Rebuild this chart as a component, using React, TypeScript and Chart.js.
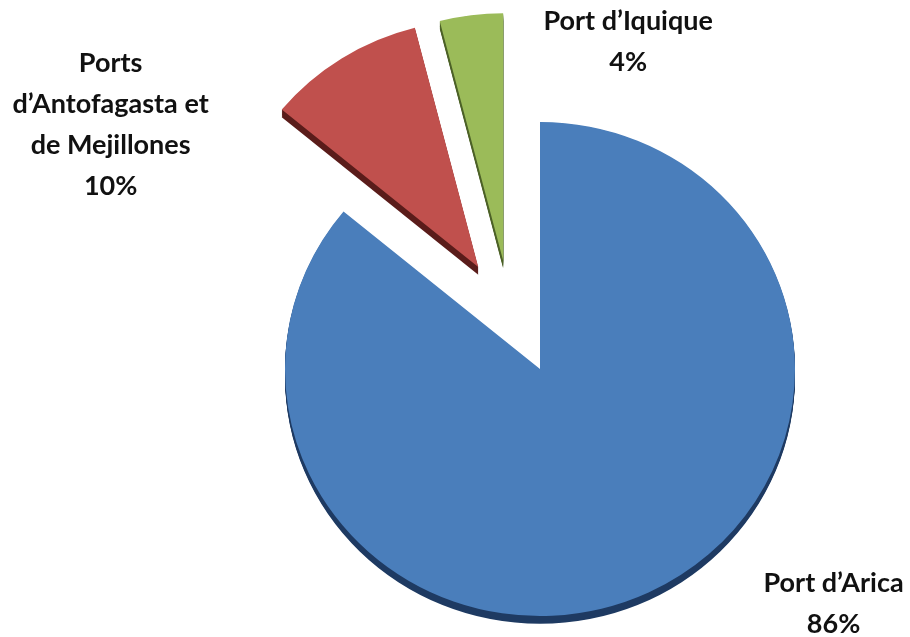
import React, { useEffect, useRef } from "react";
import { Chart, registerables } from "chart.js";

Chart.register(...registerables);

// ---- data ----
const CATEGORIES = ["Port d\u2019Arica", "Ports d\u2019Antofagasta et de Mejillones", "Port d\u2019Iquique"];
const LABEL_LINES = [["Port d\u2019Arica"], ["Ports", "d\u2019Antofagasta et", "de Mejillones"], ["Port d\u2019Iquique"]];
const SHARES = [86, 10, 4];

// ---- style ----
const FACE_COLORS = ["#4A7EBB", "#C0504D", "#9BBB59"];
const SIDE_COLORS = ["#1E3A62", "#5A1C1A", "#4C6127"];
const EXPLODE_DIST = [0, 122, 118];
const EXPLODE_TILT_DEG = [0, 2, -11];
const DEPTH = 8;
const RADIUS = 255;
const SQUASH_Y = 0.969;
const LABEL_NUDGE = [
  [185, 11],
  [-231, 66],
  [157, 27],
];
const FONT_FAMILY = "Lato, 'Open Sans', sans-serif";
const FONT_SIZE = 27;
const LINE_HEIGHT = 41;

const explodePlugin = {
  id: "explode",
  afterDatasetsUpdate(chart: any) {
    const meta = chart.getDatasetMeta(0);
    meta.data.forEach((arc: any, i: number) => {
      const d = EXPLODE_DIST[i] || 0;
      if (!d) return;
      const mid = (arc.startAngle + arc.endAngle) / 2 + (EXPLODE_TILT_DEG[i] * Math.PI) / 180;
      arc.x += Math.cos(mid) * d;
      arc.y += Math.sin(mid) * d;
    });
  },
};

function centerOf(chart: any) {
  const a = chart.chartArea;
  return { cx: (a.left + a.right) / 2, cy: (a.top + a.bottom) / 2 };
}

const pie3dPlugin = {
  id: "pie3d",
  beforeDatasetsDraw(chart: any) {
    const ctx = chart.ctx;
    const { cx, cy } = centerOf(chart);
    ctx.save();
    ctx.translate(cx, cy);
    ctx.scale(1, SQUASH_Y);
    ctx.translate(-cx, -cy);
    const meta = chart.getDatasetMeta(0);
    meta.data.forEach((arc: any, i: number) => {
      ctx.save();
      ctx.fillStyle = SIDE_COLORS[i];
      for (let k = 1; k <= DEPTH; k++) {
        ctx.beginPath();
        ctx.moveTo(arc.x, arc.y + k);
        ctx.arc(arc.x, arc.y + k, arc.outerRadius, arc.startAngle, arc.endAngle);
        ctx.closePath();
        ctx.fill();
      }
      ctx.restore();
    });
  },
  afterDatasetsDraw(chart: any) {
    const ctx = chart.ctx;
    ctx.restore();
    const { cy } = centerOf(chart);
    const meta = chart.getDatasetMeta(0);
    const total = SHARES.reduce((a, b) => a + b, 0);
    meta.data.forEach((arc: any, i: number) => {
      const mid = (arc.startAngle + arc.endAngle) / 2;
      const ux = arc.x + Math.cos(mid) * arc.outerRadius;
      const uy = arc.y + Math.sin(mid) * arc.outerRadius;
      const ox = ux + LABEL_NUDGE[i][0];
      const oy = cy + (uy - cy) * SQUASH_Y + LABEL_NUDGE[i][1];
      const lines = [...LABEL_LINES[i], Math.round((SHARES[i] / total) * 100) + "%"];
      ctx.save();
      ctx.font = `bold ${FONT_SIZE}px ${FONT_FAMILY}`;
      ctx.fillStyle = "#111111";
      ctx.textAlign = "center";
      ctx.textBaseline = "middle";
      const top = oy - ((lines.length - 1) * LINE_HEIGHT) / 2;
      lines.forEach((t, k) => ctx.fillText(t, ox, top + k * LINE_HEIGHT));
      ctx.restore();
    });
  },
};

export default function App() {
  const ref = useRef<HTMLCanvasElement | null>(null);
  useEffect(() => {
    if (!ref.current) return;
    const chart = new Chart(ref.current, {
      type: "pie",
      data: {
        labels: CATEGORIES,
        datasets: [
          {
            data: SHARES,
            backgroundColor: FACE_COLORS,
            borderWidth: 0,
          },
        ],
      },
      options: {
        responsive: false,
        maintainAspectRatio: false,
        animation: false,
        devicePixelRatio: 1,
        radius: RADIUS,
        layout: { padding: { left: 170, right: 0, top: 101, bottom: 0 } },
        plugins: {
          legend: { display: false },
          tooltip: { enabled: false },
          title: { display: false },
        },
      } as any,
      plugins: [explodePlugin, pie3dPlugin],
    });
    return () => chart.destroy();
  }, []);
  return (
    <div style={{ position: "fixed", left: 0, top: 0, width: 910, height: 637, background: "#ffffff" }}>
      <canvas ref={ref} width={910} height={637} style={{ width: 910, height: 637, display: "block" }} />
    </div>
  );
}
